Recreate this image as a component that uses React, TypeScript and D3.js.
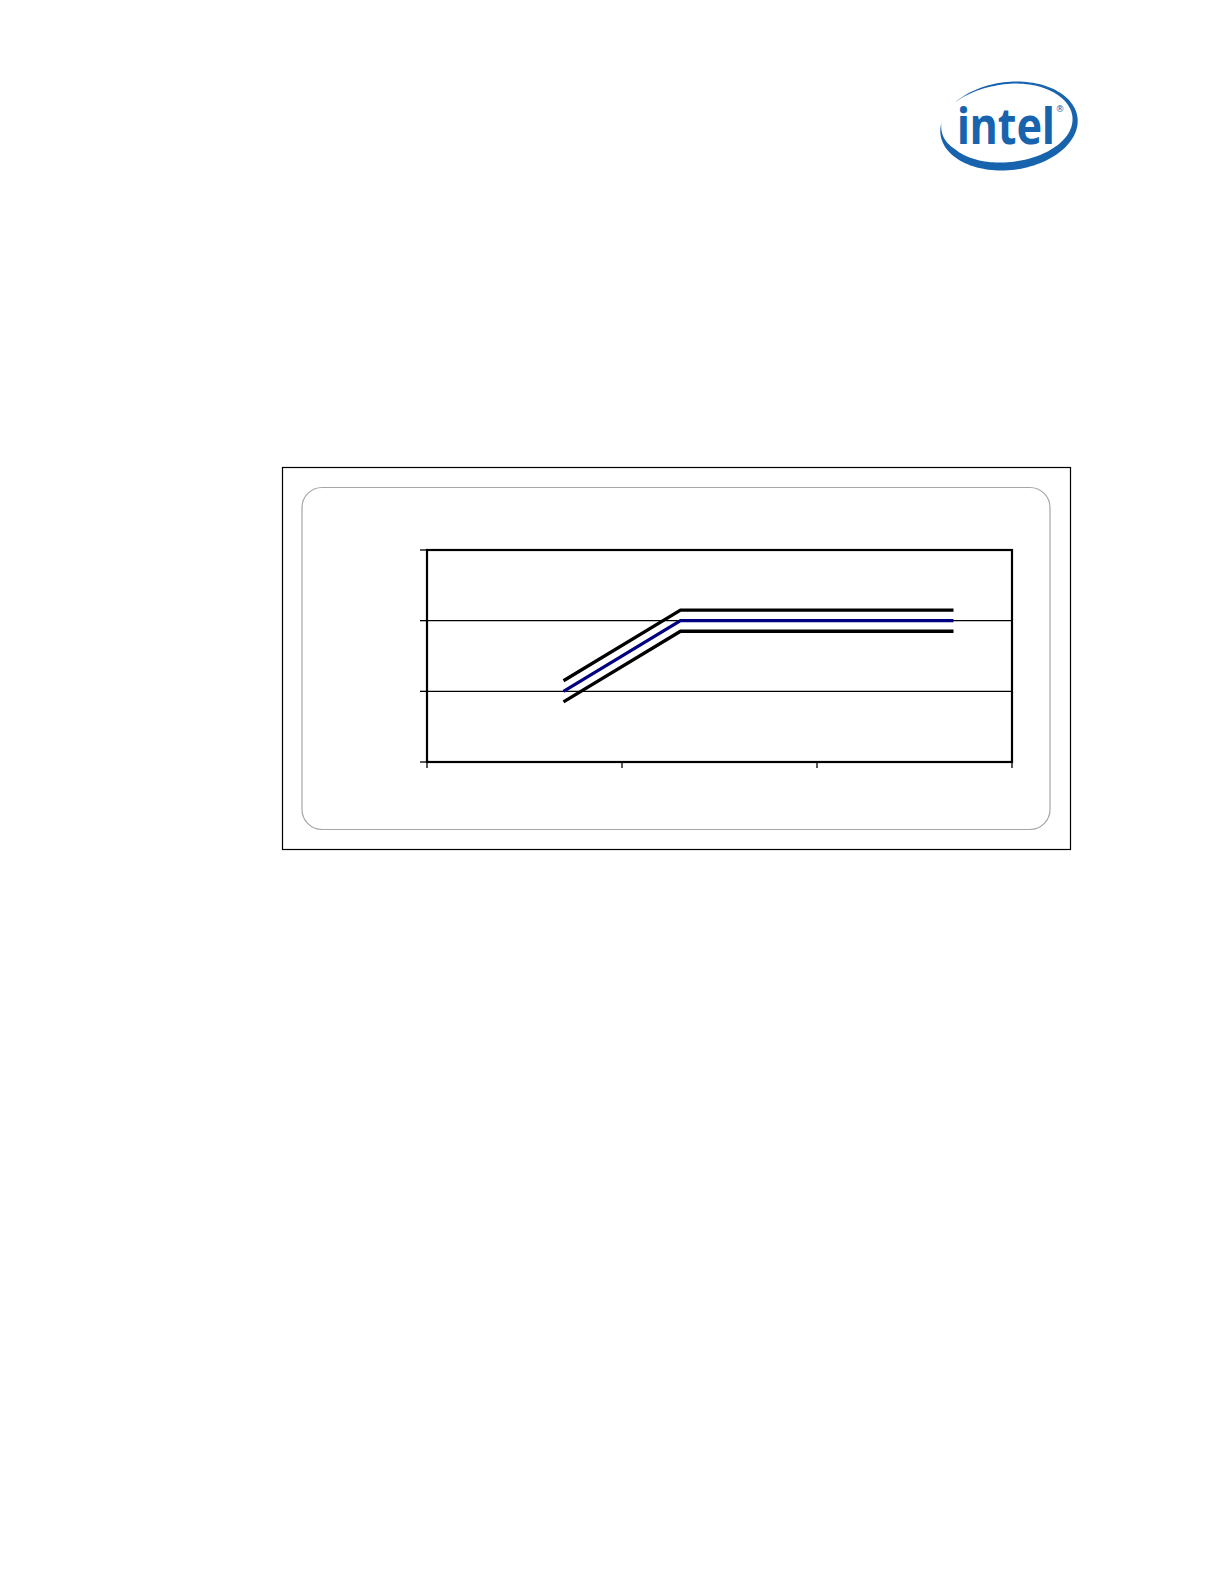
import React from 'react';
import * as d3 from 'd3';

// axis ticks (no labels in the original figure)
const xTicks = [0, 1, 2, 3];
const yTicks = [0, 1, 2, 3];
const gridValues = [1, 2];

// load line: nominal plus upper / lower tolerance band
const xPoints = [0.7, 1.3, 2.7];
const nominal = [1.0, 2.0, 2.0];
const upper = [1.15, 2.15, 2.15];
const lower = [0.85, 1.85, 1.85];

const W = 1224;
const H = 1584;

function IntelLogo() {
  const cx = 1009;
  const cy = 126;
  const rx = 69;
  const ry = 44;
  const rot = (-7 * Math.PI) / 180;
  const tStart = (195 * Math.PI) / 180;
  const tEnd = (-137 * Math.PI) / 180;
  const n = 120;
  const outer: [number, number][] = [];
  const inner: [number, number][] = [];
  const place = (a: number, b: number): [number, number] => [
    cx + a * Math.cos(rot) - b * Math.sin(rot),
    cy + a * Math.sin(rot) + b * Math.cos(rot),
  ];
  for (let i = 0; i <= n; i++) {
    const t = tStart + ((tEnd - tStart) * i) / n;
    const span = Math.abs(tEnd - tStart);
    const d = Math.min(Math.abs(t - tStart), Math.abs(t - tEnd));
    const taper = Math.min(1, d / (0.12 * span));
    const w = (5 + 3 * Math.sin(t)) * taper;
    outer.push(place(rx * Math.cos(t), ry * Math.sin(t)));
    inner.push(place((rx - w) * Math.cos(t), (ry - w) * Math.sin(t)));
  }
  const pts = outer.concat(inner.reverse());
  const swoosh = d3.line()(pts) + 'Z';
  const blue = '#1763ae';
  return (
    <g>
      <path d={swoosh} fill={blue} />
      <g transform="translate(957,144) scale(1,1.16)">
        <text
          x={0}
          y={0}
          fontFamily="'Noto Sans', 'DejaVu Sans', sans-serif"
          fontWeight={700}
          fontSize={43}
          fill={blue}
        >
          intel
        </text>
      </g>
      <text x={1060} y={112} fontSize={9} textAnchor="middle" fill={blue} fontFamily="'DejaVu Sans', sans-serif">®</text>
    </g>
  );
}

export default function App() {
  const left = 427;
  const right = 1012;
  const top = 550;
  const bottom = 762;

  const x = d3.scaleLinear().domain([0, 3]).range([left, right]);
  const y = d3.scaleLinear().domain([0, 3]).range([bottom, top]);

  const line = d3
    .line<number>()
    .x((_, i) => x(xPoints[i]))
    .y((d) => y(d));

  return (
    <svg
      width={W}
      height={H}
      viewBox={`0 0 ${W} ${H}`}
      style={{ position: 'absolute', left: 0, top: 0, background: '#fff' }}
    >
      <rect x={0} y={0} width={W} height={H} fill="#fff" />
      <IntelLogo />

      {/* frame around the figure */}
      <rect x={282.5} y={467.5} width={788} height={382} fill="none" stroke="#000" strokeWidth={1.2} />
      <rect x={302} y={487.5} width={748} height={342} rx={20} ry={20} fill="none" stroke="#a6a6a6" strokeWidth={1.2} />

      {/* gridlines */}
      {gridValues.map((v) => (
        <line key={'g' + v} x1={left} x2={right} y1={y(v)} y2={y(v)} stroke="#000" strokeWidth={1.1} />
      ))}

      {/* tick marks */}
      {yTicks.map((v) => (
        <line key={'yt' + v} x1={left - 7} x2={left} y1={y(v)} y2={y(v)} stroke="#000" strokeWidth={1.3} />
      ))}
      {xTicks.map((v) => (
        <line key={'xt' + v} x1={x(v)} x2={x(v)} y1={bottom} y2={bottom + 6} stroke="#000" strokeWidth={1.3} />
      ))}

      {/* plot border */}
      <rect x={left} y={top} width={right - left} height={bottom - top} fill="none" stroke="#000" strokeWidth={2.2} />

      {/* series */}
      <path d={line(upper) || ''} fill="none" stroke="#000" strokeWidth={3.3} />
      <path d={line(lower) || ''} fill="none" stroke="#000" strokeWidth={3.3} />
      <path d={line(nominal) || ''} fill="none" stroke="#000080" strokeWidth={3.2} />
    </svg>
  );
}
